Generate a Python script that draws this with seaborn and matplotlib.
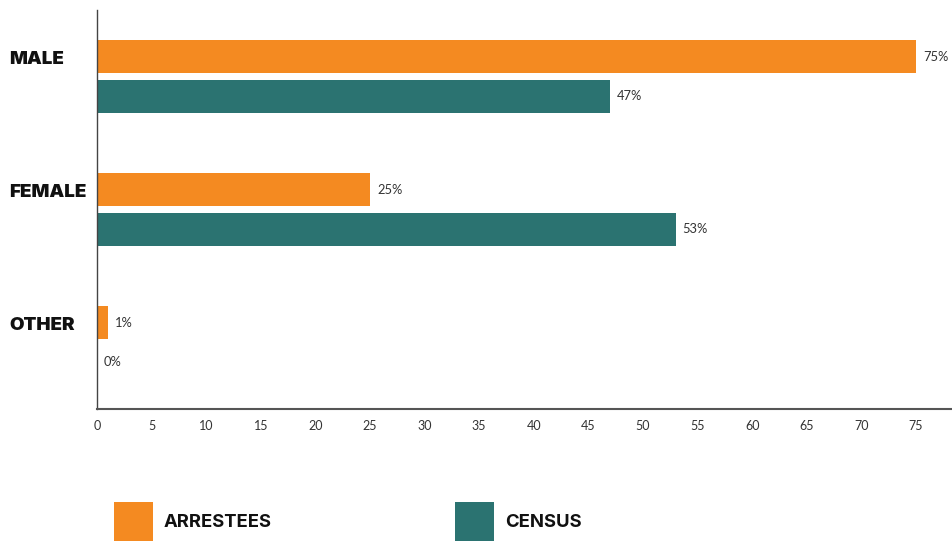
import matplotlib
matplotlib.use("Agg")
import matplotlib.pyplot as plt
import matplotlib.transforms as mtransforms
import seaborn as sns
import pandas as pd

categories = ["MALE", "FEMALE", "OTHER"]
arrestees = [75, 25, 1]
census = [47, 53, 0]
series_names = ["ARRESTEES", "CENSUS"]
colors = ["#F48A21", "#2B7371"]
xticks = list(range(0, 80, 5))

df = pd.DataFrame({
    "category": categories * 2,
    "value": arrestees + census,
    "series": [series_names[0]] * 3 + [series_names[1]] * 3,
})

sns.set_theme(style="white")
plt.rcParams["font.family"] = ["Lato", "DejaVu Sans"]

fig = plt.figure(figsize=(9.52, 5.42), dpi=100)
ax = fig.add_axes([97 / 952, 1 - 409 / 542, 1 - 97 / 952, 399 / 542])

sns.barplot(data=df, y="category", x="value", hue="series", order=categories,
            hue_order=series_names, palette=colors, orient="h", width=0.6,
            gap=0.17, ax=ax, saturation=1, legend=True, linewidth=0)

ax.set_xlim(0, 78.3)
ax.set_ylim(2.5, -0.5)
ax.set_xticks(xticks)
ax.set_xticklabels([str(t) for t in xticks], fontsize=9, color="#333333")
ax.tick_params(axis="x", length=0, pad=8)
ax.set_yticks([])
ax.set_xlabel("")
ax.set_ylabel("")
for s in ["top", "right"]:
    ax.spines[s].set_visible(False)
ax.spines["left"].set_color("#444444")
ax.spines["left"].set_linewidth(1.0)
ax.spines["bottom"].set_color("#555555")
ax.spines["bottom"].set_linewidth(1.5)

for cont in ax.containers:
    ax.bar_label(cont, labels=[f"{v:.0f}%" for v in cont.datavalues],
                 padding=5, fontsize=9.3, color="#333333")

# category labels aligned with arrestee bars
trans = mtransforms.blended_transform_factory(fig.transFigure, ax.transData)
for i, cat in enumerate(categories):
    ax.text(9 / 952, i - 0.13, cat, transform=trans, ha="left", va="center",
            fontsize=13.5, fontweight="black", family=["Inter", "DejaVu Sans"],
            color="#111111")

handles, labels = ax.get_legend_handles_labels()
ax.legend_.remove()
leg = fig.legend(handles, labels, loc="lower left", bbox_to_anchor=(114 / 952, 1 / 542),
                 ncol=2, frameon=False, handlelength=2.1, handleheight=2.87,
                 handletextpad=0.6, columnspacing=9.9, borderpad=0, borderaxespad=0,
                 prop={"family": ["Inter", "DejaVu Sans"], "weight": "bold", "size": 13.3})
for t in leg.get_texts():
    t.set_color("#111111")

fig.savefig("out.png", dpi=100)
